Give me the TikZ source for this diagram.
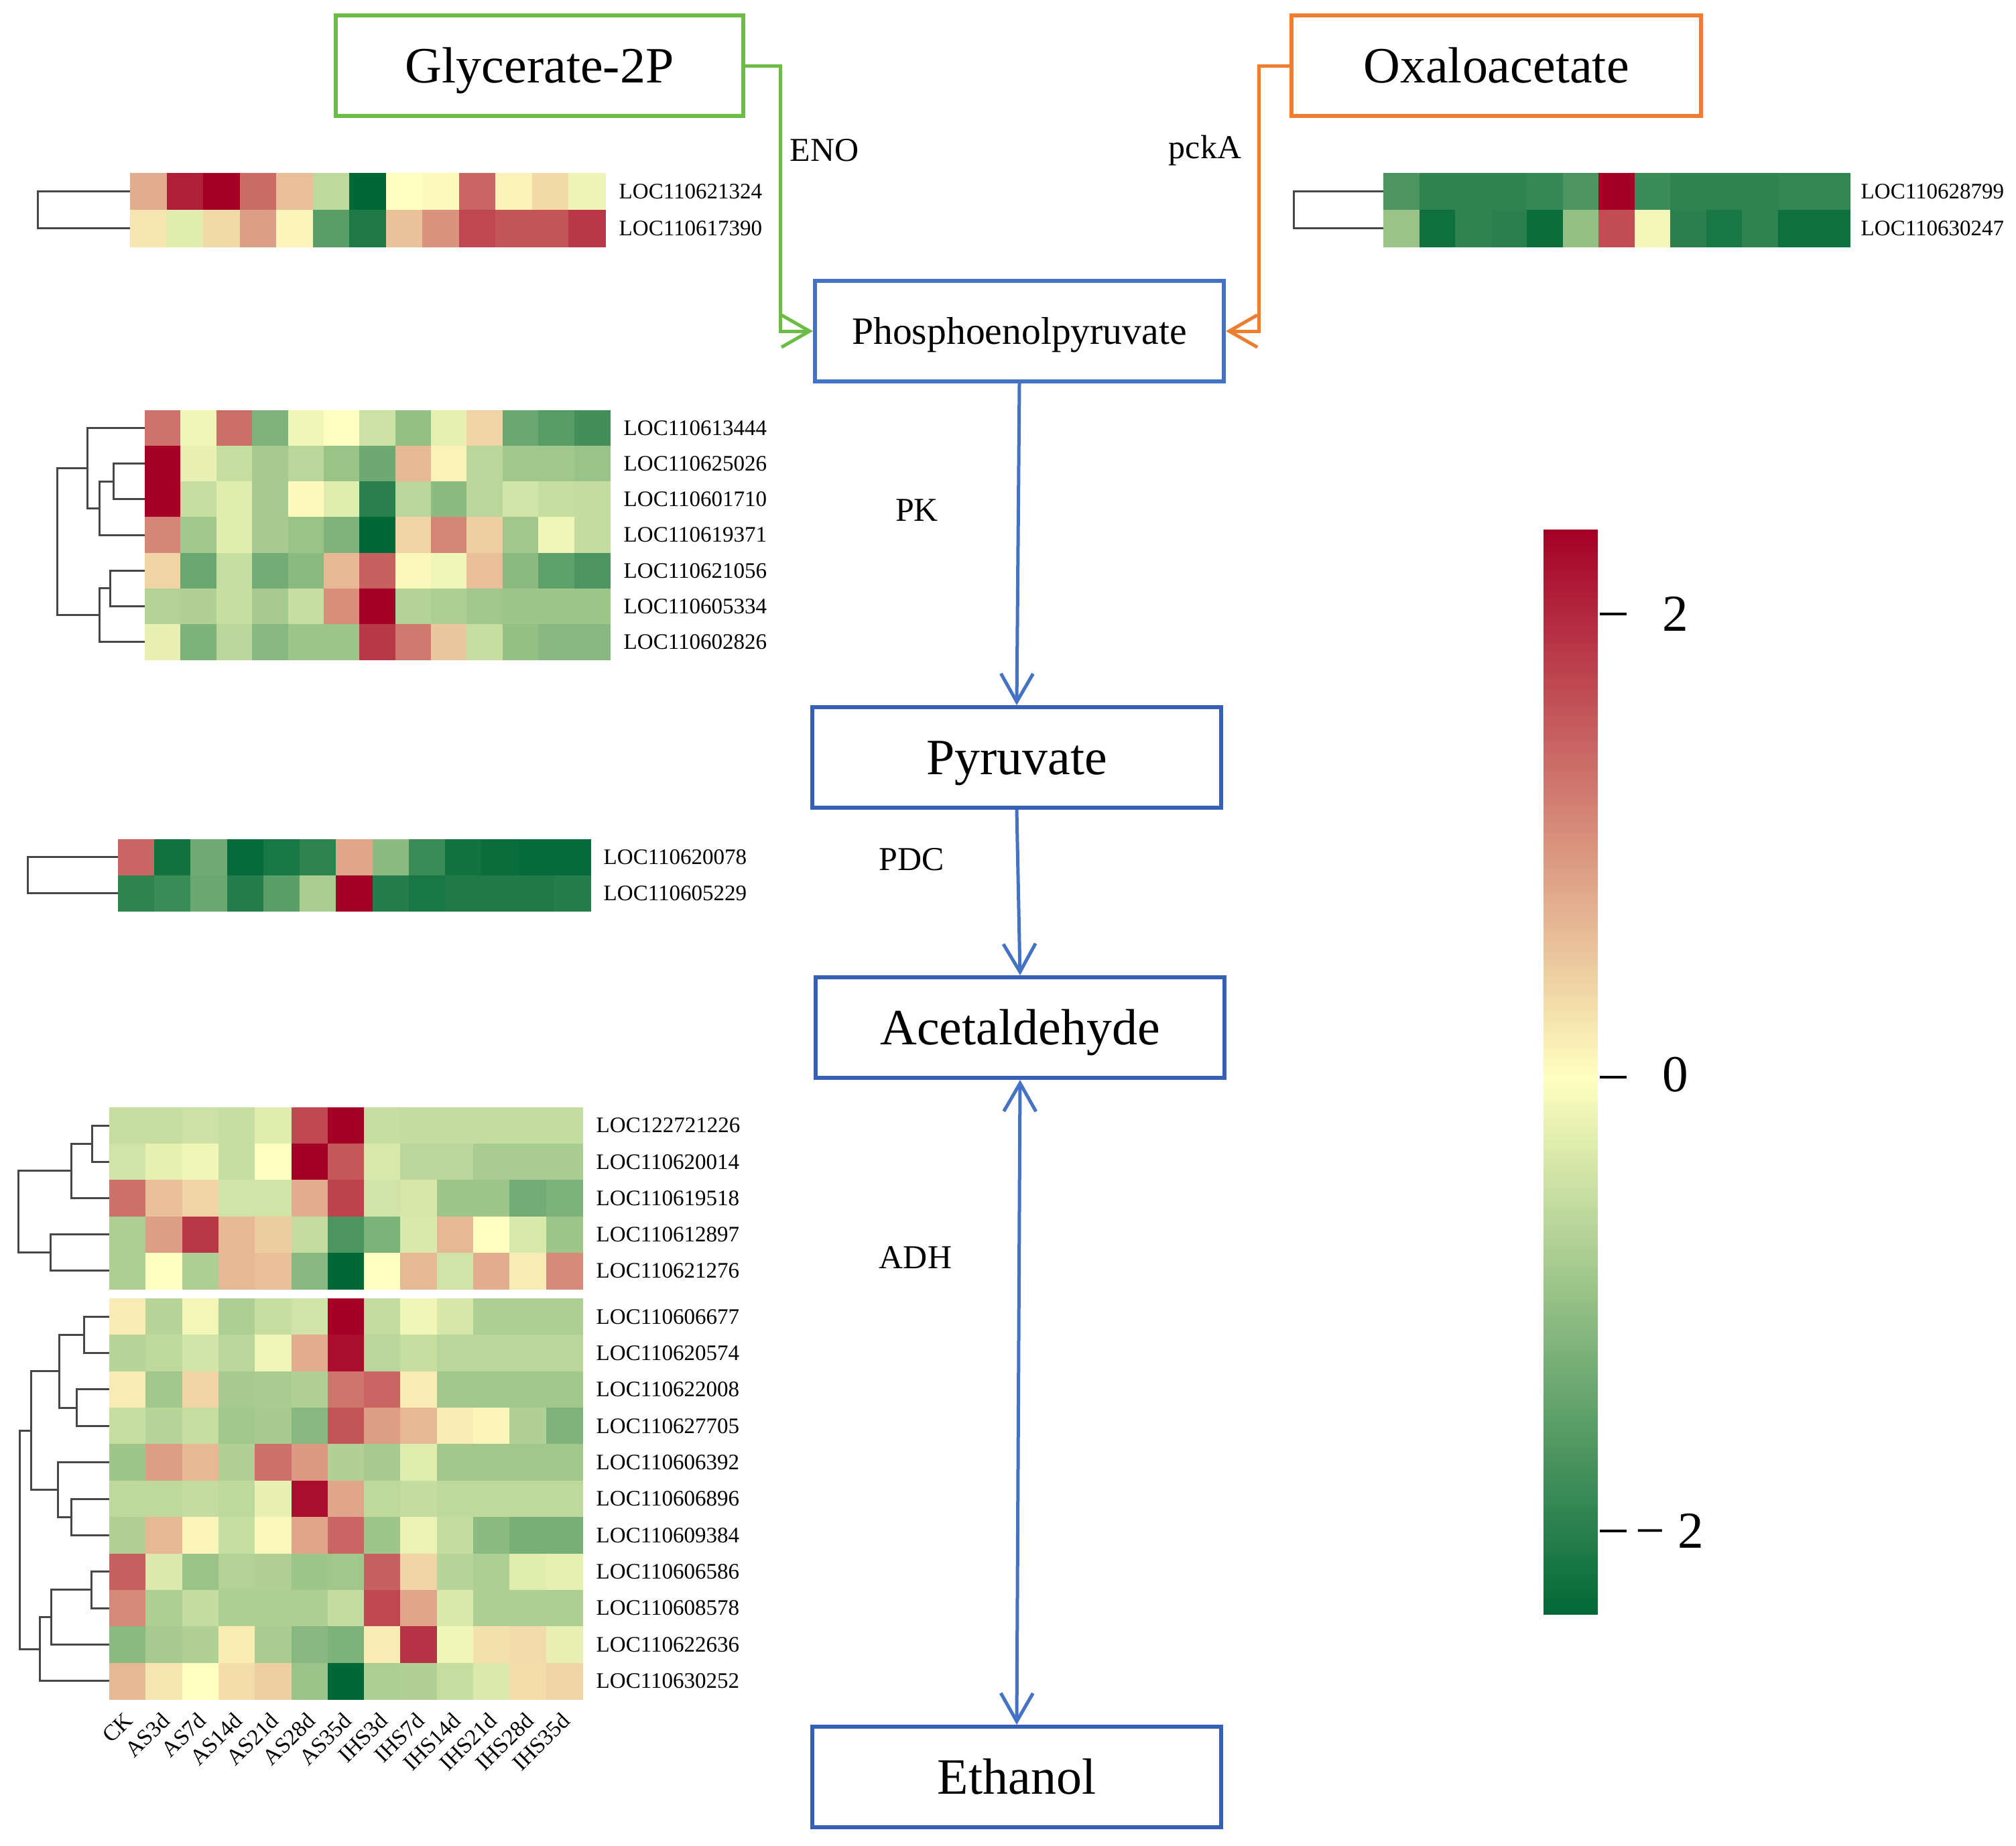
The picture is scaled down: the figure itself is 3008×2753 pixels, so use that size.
\documentclass[tikz,border=0pt]{standalone}
\usepackage{fontspec}
\setmainfont{Liberation Serif}
\usetikzlibrary{arrows.meta}
\definecolor{hmR}{HTML}{A50026}
\definecolor{hmY}{HTML}{FFFFBF}
\definecolor{hmG}{HTML}{006837}
\definecolor{boxgreen}{HTML}{6CBD45}
\definecolor{boxorange}{HTML}{ED7D31}
\definecolor{boxblue}{HTML}{4472C4}
\definecolor{boxblueb}{HTML}{3560B5}
\newcommand\hmap[5]{%
  \foreach \hrow [count=\hr from 0] in {#5}{%
    \foreach \hv [count=\hi from 0] in \hrow {%
      \ifnum\hv<0\relax
        \pgfmathtruncatemacro\hmw{-(\hv)}%
        \edef\hmcc{hmG!\hmw!hmY}%
      \else
        \edef\hmcc{hmR!\hv!hmY}%
      \fi
      \fill[fill=\hmcc] ({#1+\hi*#3},{#2+\hr*#4}) rectangle ({#1+(\hi+1)*#3+0.8},{#2+(\hr+1)*#4+0.8});
    }%
  }%
}
\tikzset{
  bigbox/.style={draw, line width=0.6mm, minimum width=60.8mm, minimum height=15mm, inner sep=0, text height=14.3pt, text depth=0pt, font=\fontsize{21.6}{26}\selectfont},
  enz/.style={inner sep=0, font=\fontsize{14.2}{17}\selectfont},
  rowlab/.style={anchor=west, inner sep=0, font=\fontsize{9.4}{11}\selectfont},
  collab/.style={anchor=north east, inner sep=0, rotate=45, font=\fontsize{9.6}{11}\selectfont},
  dend/.style={line width=0.3mm, draw=black!72, line join=miter},
  flow/.style={line width=0.5mm, -{Straight Barb[length=4.2mm,width=4.8mm]}},
  cbl/.style={inner sep=0, font=\fontsize{22}{26}\selectfont},
}
\begin{document}
\begin{tikzpicture}[x=0.1mm,y=-0.1mm]
\fill[white] (0,0) rectangle (3008,2753);
\useasboundingbox (0,0) rectangle (3008,2753);

% ---------------- boxes ----------------
\node[bigbox, draw=boxgreen] (glyc) at (805,98) {Glycerate-2P};
\node[bigbox, draw=boxorange, minimum width=61.1mm] (oxa) at (2232.5,98) {Oxaloacetate};
\node[bigbox, draw=boxblue, minimum width=61mm, text height=10.8pt, font=\fontsize{16.4}{20}\selectfont] (pep) at (1521,494) {Phosphoenolpyruvate};
\node[bigbox, draw=boxblueb, minimum width=61mm] (pyr) at (1517,1130) {Pyruvate};
\node[bigbox, draw=boxblueb, minimum width=61mm] (acet) at (1522,1533) {Acetaldehyde};
\node[bigbox, draw=boxblueb, minimum width=61mm] (eth) at (1517,2651) {Ethanol};

% ---------------- connectors ----------------
\coordinate (gbend) at (1164,98);
\coordinate (obend) at (1878,98);
\draw[flow, boxgreen] (glyc.east) -- (gbend) |- (pep.west);
\draw[flow, boxorange] (oxa.west) -- (obend) |- (pep.east);
\draw[flow, boxblue] (pep.south) -- (pyr.north);
\draw[flow, boxblue] (pyr.south) -- (acet.north);
\draw[line width=0.5mm, boxblue, {Straight Barb[length=4.2mm,width=4.8mm]}-{Straight Barb[length=4.2mm,width=4.8mm]}] (acet.south) -- (eth.north);

\node[enz] (eno) at (1230,224) {ENO};
\node[enz] (pcka) at (1798,224) {pckA};
\node[enz] (pk) at (1368,761) {PK};
\node[enz] (pdc) at (1360,1282) {PDC};
\node[enz] (adh) at (1366,1876) {ADH};

% ---------------- heatmap 1 ----------------
\hmap{194}{258}{54.54}{55}{{32,88,100,58,25,-25,-100,0,2,60,5,15,-7},{10,-12,15,38,4,-65,-88,24,42,72,67,67,78}}
\draw[dend] (194,285.5) -- (56,285.5) -- (56,340.5) -- (194,340.5);
\foreach \t [count=\i from 0] in {LOC110621324,LOC110617390}
  \node[rowlab] (lab\t) at (923,{285.5+\i*55}) {\t};

% ---------------- heatmap 2 ----------------
\hmap{2064}{258}{53.54}{55}{{-70,-82,-82,-82,-79,-70,100,-77,-82,-82,-82,-80,-80},{-40,-95,-82,-84,-96,-42,70,-5,-84,-90,-82,-95,-95}}
\draw[dend] (2064,285.5) -- (1930,285.5) -- (1930,340.5) -- (2064,340.5);
\foreach \t [count=\i from 0] in {LOC110628799,LOC110630247}
  \node[rowlab] (lab\t) at (2776,{285.5+\i*55}) {\t};

% ---------------- heatmap 3 ----------------
\hmap{216}{612}{53.38}{53.14}{%
{55,-6,57,-50,-6,0,-20,-42,-10,17,-58,-66,-74},%
{100,-9,-22,-35,-27,-40,-57,28,5,-27,-37,-37,-40},%
{100,-22,-12,-35,2,-12,-84,-27,-45,-27,-18,-22,-23},%
{48,-37,-12,-35,-40,-50,-100,17,48,19,-37,-6,-23},%
{17,-58,-22,-55,-46,28,62,3,-6,25,-46,-63,-70},%
{-30,-31,-22,-35,-22,44,100,-30,-32,-37,-38,-38,-38},%
{-9,-51,-27,-47,-38,-38,78,52,22,-22,-42,-47,-47}}
\draw[dend] (216,691.7) -- (169,691.7) -- (169,744.9) -- (216,744.9);
\draw[dend] (169,718.3) -- (148,718.3) -- (148,798.0) -- (216,798.0);
\draw[dend] (216,638.6) -- (130,638.6) -- (130,758.2) -- (148,758.2);
\draw[dend] (216,851.1) -- (164,851.1) -- (164,904.3) -- (216,904.3);
\draw[dend] (164,877.7) -- (148,877.7) -- (148,957.4) -- (216,957.4);
\draw[dend] (130,698.4) -- (85,698.4) -- (85,917.6) -- (148,917.6);
\foreach \t [count=\i from 0] in {LOC110613444,LOC110625026,LOC110601710,LOC110619371,LOC110621056,LOC110605334,LOC110602826}
  \node[rowlab] (lab\t) at (930,{638.6+\i*53.14}) {\t};

% ---------------- heatmap 4 ----------------
\hmap{176}{1252}{54.23}{53.5}{{60,-93,-56,-98,-90,-82,35,-45,-77,-93,-96,-98,-98},{-82,-77,-58,-86,-64,-33,100,-86,-90,-88,-88,-88,-86}}
\draw[dend] (176,1278.75) -- (41,1278.75) -- (41,1332.25) -- (176,1332.25);
\foreach \t [count=\i from 0] in {LOC110620078,LOC110605229}
  \node[rowlab] (lab\t) at (900,{1278.75+\i*53.5}) {\t};

% ---------------- heatmap 5a ----------------
\hmap{163}{1652}{54.3}{54.2}{%
{-22,-22,-20,-22,-12,72,100,-22,-23,-23,-23,-23,-23},%
{-18,-10,-6,-22,0,100,66,-15,-27,-27,-34,-34,-34},%
{56,25,17,-18,-18,32,74,-18,-16,-38,-38,-55,-51},%
{-32,38,78,28,20,-23,-70,-51,-15,28,0,-15,-38},%
{-32,0,-32,28,25,-47,-100,0,28,-18,32,8,46}}
\draw[dend] (163,1679.1) -- (137,1679.1) -- (137,1733.3) -- (163,1733.3);
\draw[dend] (137,1706.2) -- (106,1706.2) -- (106,1787.5) -- (163,1787.5);
\draw[dend] (163,1841.7) -- (75,1841.7) -- (75,1895.9) -- (163,1895.9);
\draw[dend] (106,1746.9) -- (27,1746.9) -- (27,1868.8) -- (75,1868.8);
\foreach \t [count=\i from 0] in {LOC122721226,LOC110620014,LOC110619518,LOC110612897,LOC110621276}
  \node[rowlab] (lab\t) at (889,{1679.1+\i*54.2}) {\t};

% ---------------- heatmap 5b ----------------
\hmap{163}{1937}{54.3}{54.36}{%
{8,-28,-5,-32,-22,-18,100,-23,-6,-16,-32,-32,-32},%
{-28,-25,-18,-27,-6,32,95,-27,-22,-27,-27,-27,-27},%
{8,-37,17,-35,-34,-31,54,60,8,-37,-37,-37,-37},%
{-22,-28,-22,-37,-35,-47,67,38,28,8,4,-31,-50},%
{-38,38,28,-31,56,40,-31,-35,-12,-37,-37,-37,-37},%
{-25,-25,-23,-25,-9,95,35,-25,-23,-25,-25,-25,-25},%
{-31,28,4,-22,3,35,60,-38,-8,-23,-45,-53,-53},%
{62,-14,-40,-30,-31,-38,-37,62,17,-28,-32,-12,-10},%
{46,-32,-23,-32,-32,-32,-23,72,35,-15,-32,-32,-32},%
{-46,-35,-31,7,-34,-47,-51,8,80,-6,12,14,-9},%
{28,10,0,13,19,-40,-100,-32,-31,-22,-14,13,17}}
\draw[dend] (163,1964.2) -- (125,1964.2) -- (125,2018.5) -- (163,2018.5);
\draw[dend] (163,2072.9) -- (114,2072.9) -- (114,2127.3) -- (163,2127.3);
\draw[dend] (125,1991.4) -- (88,1991.4) -- (88,2100.1) -- (114,2100.1);
\draw[dend] (163,2236.0) -- (106,2236.0) -- (106,2290.3) -- (163,2290.3);
\draw[dend] (163,2181.6) -- (86,2181.6) -- (86,2263.2) -- (106,2263.2);
\draw[dend] (88,2045.8) -- (46,2045.8) -- (46,2222.4) -- (86,2222.4);
\draw[dend] (163,2344.7) -- (136,2344.7) -- (136,2399.1) -- (163,2399.1);
\draw[dend] (136,2371.9) -- (76,2371.9) -- (76,2453.4) -- (163,2453.4);
\draw[dend] (76,2412.7) -- (59,2412.7) -- (59,2507.8) -- (163,2507.8);
\draw[dend] (46,2134.1) -- (29,2134.1) -- (29,2460.2) -- (59,2460.2);
\foreach \t [count=\i from 0] in {LOC110606677,LOC110620574,LOC110622008,LOC110627705,LOC110606392,LOC110606896,LOC110609384,LOC110606586,LOC110608578,LOC110622636,LOC110630252}
  \node[rowlab] (lab\t) at (889,{1964.2+\i*54.36}) {\t};

% column labels
\foreach \t [count=\i from 0] in {CK,AS3d,AS7d,AS14d,AS21d,AS28d,AS35d,IHS3d,IHS7d,IHS14d,IHS21d,IHS28d,IHS35d}
  \node[collab] (col\t) at ({163+54.3*(\i+0.5)-6},2552) {\t};

% ---------------- colour bar ----------------
\shade[top color=hmR, bottom color=hmY] (2303,790) rectangle (2384,1608);
\shade[top color=hmY, bottom color=hmG] (2303,1607) rectangle (2384,2408);
\draw[line width=0.4mm] (2387,916) -- (2427,916);
\draw[line width=0.4mm] (2387,1607) -- (2427,1607);
\draw[line width=0.4mm] (2387,2284) -- (2427,2284);
\node[cbl] (cb2) at (2500,916) {2};
\node[cbl] (cb0) at (2500,1603) {0};
\node[cbl, anchor=west] (cbm2) at (2440,2284) {\char"2212\hspace{0.25em}2};
\end{tikzpicture}
\end{document}
